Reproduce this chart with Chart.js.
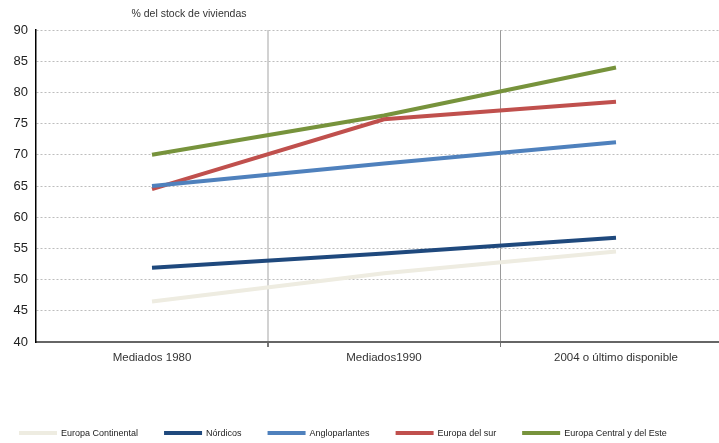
<!DOCTYPE html>
<html>
<head>
<meta charset="utf-8">
<script src="https://cdn.jsdelivr.net/npm/chart.js@4/dist/chart.umd.min.js"></script>
<style>
  html, body { margin: 0; padding: 0; background: #fff; overflow: hidden; }
  #wrap { position: relative; width: 740px; height: 443px; }
</style>
</head>
<body>
<div id="wrap"><canvas id="chart" width="740" height="443"></canvas></div>
<script>
// Tenencia de vivienda en propiedad por grupo de países
const categories = ['Mediados 1980', 'Mediados1990', '2004 o último disponible'];
const seriesNames = ['Europa Continental', 'Nórdicos', 'Angloparlantes', 'Europa del sur', 'Europa Central y del Este'];
const europaContinental = [46.5, 51.0, 54.5];
const nordicos = [51.9, 54.2, 56.7];
const angloparlantes = [65.0, 68.6, 72.0];
const europaSur = [64.5, 75.7, 78.5];
const europaCentralEste = [70.0, 76.3, 84.0];
const yTicks = [40, 45, 50, 55, 60, 65, 70, 75, 80, 85, 90];
const unitLabel = '% del stock de viviendas';

const colors = ['#EEECE1', '#1F497D', '#4F81BD', '#C0504D', '#77933C'];
const values = [europaContinental, nordicos, angloparlantes, europaSur, europaCentralEste];

const FONT = '"Liberation Sans", Arial, sans-serif';

const datasets = values.map((v, i) => ({
  label: seriesNames[i],
  data: v,
  borderColor: colors[i],
  backgroundColor: colors[i],
  borderWidth: 4,
  pointRadius: 0,
  tension: 0,
  fill: false
}));

// Unit label above the axis and the line legend under the chart
const decorations = {
  id: 'decorations',
  afterDraw(chart) {
    const ctx = chart.ctx;
    ctx.save();
    ctx.fillStyle = '#333';
    ctx.font = '10.5px ' + FONT;
    ctx.textAlign = 'center';
    ctx.textBaseline = 'middle';
    ctx.fillText(unitLabel, 189, 14);

    ctx.font = '9px ' + FONT;
    ctx.textAlign = 'left';
    let x = 19;
    const y = 433;
    chart.data.datasets.forEach(ds => {
      ctx.strokeStyle = ds.borderColor;
      ctx.lineWidth = 4;
      ctx.beginPath();
      ctx.moveTo(x, y);
      ctx.lineTo(x + 38, y);
      ctx.stroke();
      ctx.fillStyle = '#222';
      ctx.fillText(ds.label, x + 42, y + 0.5);
      x += 42 + ctx.measureText(ds.label).width + 26;
    });
    ctx.restore();
  }
};

new Chart(document.getElementById('chart'), {
  type: 'line',
  data: { labels: categories, datasets },
  plugins: [decorations],
  options: {
    responsive: false,
    animation: false,
    layout: { padding: { top: 30, left: 0, right: 8, bottom: 0 } },
    plugins: { legend: { display: false }, tooltip: { enabled: false } },
    scales: {
      x: {
        offset: true,
        grid: {
          offset: true,
          drawTicks: true,
          tickLength: 5,
          color: ctx => ctx.index === 1 ? '#d2d2d2' : (ctx.index === 2 ? '#9a9a9a' : 'rgba(0,0,0,0)'),
          lineWidth: ctx => ctx.index === 1 ? 2 : 1,
          tickColor: ctx => (ctx.index === 1 || ctx.index === 2) ? '#777' : 'rgba(0,0,0,0)'
        },
        border: { display: true, color: '#666', width: 2 },
        ticks: { color: '#333', font: { family: FONT, size: 11.5 }, padding: 4, maxRotation: 0 },
        afterFit(scale) { scale.height = 101; }
      },
      y: {
        min: 40,
        max: 90,
        afterBuildTicks(scale) { scale.ticks = yTicks.map(v => ({ value: v })); },
        grid: { color: '#bdbdbd', lineWidth: 1, drawTicks: false },
        border: { display: true, color: '#000', width: 1.5, dash: [2, 2] },
        ticks: { color: '#222', font: { family: FONT, size: 13 }, padding: 8 },
        afterFit(scale) { scale.width = 36; }
      }
    }
  }
});
</script>
</body>
</html>
